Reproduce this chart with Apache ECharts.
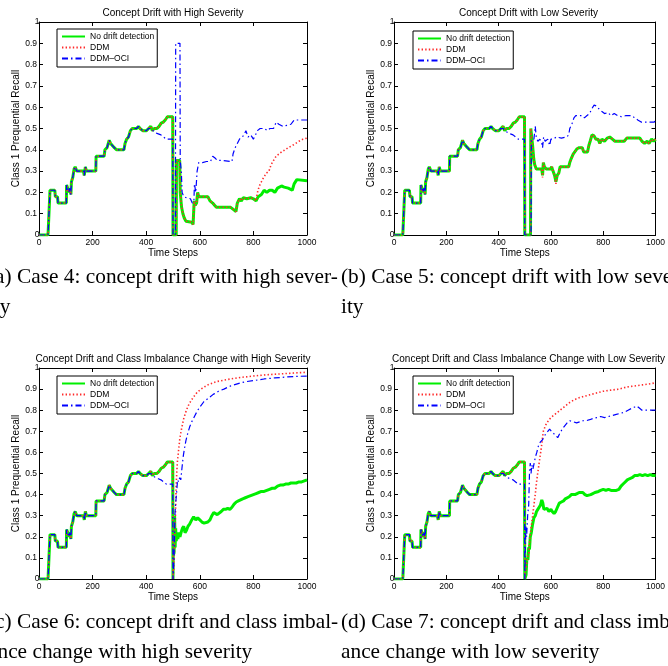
<!DOCTYPE html>
<html><head><meta charset="utf-8">
<script src="https://cdn.jsdelivr.net/npm/echarts@6/dist/echarts.min.js"></script>
<style>html,body{margin:0;padding:0;background:#fff}#c{width:668px;height:666px}</style>
</head><body><div id="c"></div>
<script>
// ---------- DATA ----------
const plotTitles = [
  'Concept Drift with High Severity',
  'Concept Drift with Low Severity',
  'Concept Drift and Class Imbalance Change with High Severity',
  'Concept Drift and Class Imbalance Change with Low Severity'
];
const seriesNames = ['No drift detection', 'DDM', 'DDM\u2013OCI'];
const xAxisName = 'Time Steps';
const yAxisName = 'Class 1 Prequential Recall';
const captions = [
  ['(a) Case 4: concept drift with high sever-', 'ity'],
  ['(b) Case 5: concept drift with low sever-', 'ity'],
  ['(c) Case 6: concept drift and class imbal-', 'ance change with high severity'],
  ['(d) Case 7: concept drift and class imbal-', 'ance change with low severity']
];
// shared history before the drift at t = 500 : [time step, recall]
const preDrift = [[0,0],[33,0],[34,0.01],[40,0.01],[41,0.21],[59,0.21],[61,0.18],[69,0.18],[71,0.15],[102,0.15],[103,0.235],[107,0.22],[111,0.2],[115,0.22],[119,0.19],[121,0.25],[126,0.27],[131,0.31],[135,0.32],[141,0.3],[166,0.3],[169,0.28],[173,0.32],[177,0.3],[212,0.3],[213,0.37],[243,0.37],[246,0.4],[254,0.41],[262,0.445],[267,0.43],[274,0.43],[281,0.41],[289,0.4],[317,0.4],[321,0.43],[327,0.45],[334,0.46],[341,0.49],[348,0.5],[364,0.5],[371,0.51],[377,0.5],[387,0.49],[401,0.49],[409,0.5],[417,0.51],[423,0.49],[430,0.5],[440,0.5],[448,0.51],[456,0.525],[464,0.53],[471,0.54],[479,0.555],[499,0.555]];
const ociPreTail = [[417,0.5],[425,0.49],[435,0.48],[445,0.475],[455,0.47],[465,0.46],[475,0.45],[499,0.45]];

// (a) Case 4
const aGreen = [[500,0],[512,0],[513,0.35],[525,0.35],[527,0.2],[532,0.13],[537,0.1],[542,0.08],[548,0.065],[555,0.06],[570,0.06],[575,0.05],[578,0.05],[579,0.16],[583,0.14],[588,0.15],[592,0.2],[596,0.18],[630,0.18],[638,0.16],[648,0.15],[655,0.14],[662,0.13],[715,0.13],[725,0.12],[735,0.11],[740,0.15],[748,0.17],[755,0.16],[762,0.175],[775,0.17],[790,0.175],[800,0.17],[810,0.16],[818,0.18],[830,0.19],[840,0.21],[850,0.2],[860,0.21],[870,0.21],[880,0.2],[890,0.22],[905,0.23],[915,0.225],[930,0.22],[945,0.21],[952,0.24],[962,0.26],[968,0.255],[1000,0.255]];
const aRedTail = [[815,0.2],[822,0.23],[830,0.25],[838,0.27],[848,0.29],[858,0.3],[866,0.33],[875,0.35],[885,0.37],[895,0.38],[905,0.39],[918,0.4],[930,0.41],[945,0.42],[958,0.43],[970,0.44],[985,0.45],[1000,0.455]];
const aBlue = [[500,0],[509,0],[510,0.9],[526,0.9],[527,0.35],[531,0.3],[534,0.2],[540,0.18],[550,0.175],[565,0.17],[572,0.15],[578,0.16],[580,0.24],[585,0.2],[590,0.3],[596,0.34],[610,0.34],[625,0.345],[640,0.345],[648,0.37],[658,0.36],[665,0.35],[680,0.35],[720,0.345],[724,0.38],[732,0.41],[740,0.43],[748,0.45],[758,0.46],[765,0.47],[772,0.49],[780,0.46],[790,0.47],[800,0.45],[808,0.47],[815,0.49],[825,0.5],[840,0.5],[852,0.49],[862,0.5],[875,0.5],[885,0.53],[895,0.52],[910,0.51],[925,0.515],[940,0.52],[952,0.54],[1000,0.54]];

// (b) Case 5
const bGreen = [[500,0],[522,0],[523,0.5],[527,0.5],[530,0.42],[534,0.36],[538,0.33],[544,0.31],[565,0.31],[568,0.28],[571,0.34],[575,0.32],[582,0.31],[598,0.31],[603,0.32],[608,0.3],[614,0.28],[619,0.25],[624,0.28],[630,0.29],[635,0.32],[668,0.32],[672,0.34],[678,0.36],[685,0.38],[692,0.38],[700,0.405],[708,0.41],[720,0.41],[725,0.39],[740,0.39],[745,0.42],[750,0.44],[757,0.47],[765,0.465],[772,0.45],[780,0.45],[787,0.43],[795,0.45],[805,0.44],[815,0.455],[825,0.46],[835,0.45],[845,0.44],[880,0.44],[890,0.455],[940,0.455],[948,0.44],[958,0.43],[968,0.44],[975,0.43],[985,0.45],[993,0.44],[1000,0.45]];
const bRed = [[500,0],[522,0],[523,0.5],[527,0.5],[530,0.42],[534,0.36],[538,0.33],[544,0.31],[565,0.31],[568,0.27],[571,0.34],[575,0.32],[582,0.31],[598,0.31],[603,0.32],[608,0.3],[614,0.28],[619,0.24],[624,0.28],[630,0.29],[635,0.32],[668,0.32],[672,0.34],[678,0.36],[685,0.38],[692,0.38],[700,0.405],[708,0.41],[720,0.41],[725,0.39],[740,0.39],[745,0.42],[750,0.44],[757,0.47],[765,0.465],[772,0.45],[780,0.45],[787,0.43],[795,0.45],[805,0.44],[815,0.455],[825,0.46],[835,0.45],[845,0.44],[880,0.44],[890,0.455],[940,0.455],[948,0.44],[958,0.43],[968,0.44],[975,0.43],[985,0.45],[993,0.44],[1000,0.45]];
const bBlue = [[500,0],[524,0],[525,0.45],[535,0.45],[540,0.51],[544,0.46],[550,0.44],[558,0.45],[565,0.43],[568,0.41],[572,0.46],[578,0.44],[588,0.45],[595,0.42],[600,0.45],[610,0.45],[620,0.46],[640,0.455],[660,0.46],[668,0.47],[672,0.5],[680,0.52],[688,0.55],[695,0.56],[720,0.56],[728,0.55],[737,0.56],[748,0.57],[755,0.59],[765,0.61],[775,0.605],[785,0.59],[795,0.58],[805,0.57],[818,0.575],[830,0.56],[842,0.57],[855,0.56],[870,0.555],[885,0.56],[910,0.56],[920,0.55],[932,0.54],[945,0.53],[975,0.53],[995,0.53],[1000,0.54]];

// (c) Case 6
const cGreen = [[500,0],[502,0.25],[504,0.12],[506,0.3],[508,0.15],[510,0.24],[512,0.18],[515,0.22],[518,0.19],[522,0.22],[526,0.2],[530,0.22],[535,0.24],[540,0.25],[545,0.22],[550,0.23],[556,0.25],[562,0.26],[570,0.28],[577,0.295],[585,0.28],[592,0.29],[600,0.28],[608,0.27],[616,0.265],[622,0.26],[630,0.27],[638,0.28],[645,0.3],[652,0.315],[658,0.31],[665,0.305],[672,0.31],[680,0.32],[688,0.33],[696,0.33],[704,0.335],[712,0.33],[720,0.34],[728,0.355],[736,0.365],[744,0.37],[752,0.375],[760,0.38],[770,0.385],[780,0.39],[790,0.395],[800,0.4],[810,0.405],[820,0.41],[830,0.415],[840,0.415],[850,0.42],[860,0.425],[870,0.43],[880,0.43],[890,0.44],[900,0.445],[910,0.445],[920,0.45],[930,0.45],[940,0.455],[950,0.455],[960,0.455],[970,0.46],[980,0.46],[990,0.465],[1000,0.47]];
const cRed = [[500,0],[503,0.05],[506,0.15],[509,0.3],[512,0.45],[516,0.55],[520,0.6],[525,0.66],[530,0.7],[540,0.76],[550,0.8],[560,0.83],[575,0.86],[590,0.885],[610,0.905],[630,0.92],[660,0.935],[700,0.945],[750,0.955],[800,0.962],[850,0.968],[900,0.972],[950,0.976],[1000,0.98]];
const cBlue = [[500,0],[504,0.1],[507,0.3],[510,0.36],[513,0.4],[517,0.47],[521,0.46],[525,0.48],[529,0.47],[533,0.52],[538,0.58],[543,0.62],[548,0.655],[555,0.69],[562,0.72],[570,0.745],[580,0.77],[590,0.795],[600,0.815],[615,0.84],[630,0.855],[650,0.875],[670,0.89],[690,0.9],[715,0.915],[740,0.925],[770,0.935],[800,0.94],[840,0.948],[880,0.953],[920,0.957],[960,0.96],[1000,0.962]];

// (d) Case 7
const dGreen = [[500,0],[505,0.02],[508,0.1],[512,0.09],[515,0.15],[518,0.14],[521,0.2],[525,0.22],[530,0.26],[535,0.29],[540,0.3],[545,0.32],[550,0.33],[555,0.34],[560,0.35],[565,0.375],[569,0.36],[573,0.33],[578,0.325],[585,0.335],[592,0.32],[600,0.33],[605,0.32],[612,0.31],[618,0.32],[625,0.34],[632,0.36],[640,0.365],[648,0.37],[655,0.38],[662,0.38],[670,0.39],[678,0.4],[685,0.405],[692,0.4],[700,0.405],[708,0.41],[715,0.415],[722,0.41],[730,0.4],[738,0.395],[745,0.39],[752,0.4],[760,0.405],[768,0.41],[775,0.405],[782,0.415],[790,0.42],[800,0.425],[810,0.42],[820,0.425],[830,0.42],[850,0.42],[860,0.425],[868,0.44],[876,0.45],[884,0.46],[892,0.47],[900,0.475],[910,0.48],[920,0.49],[930,0.49],[940,0.495],[950,0.49],[960,0.495],[970,0.49],[980,0.495],[990,0.49],[1000,0.49]];
const dRed = [[500,0],[505,0.05],[510,0.1],[515,0.12],[520,0.2],[530,0.3],[540,0.4],[546,0.47],[555,0.55],[563,0.62],[571,0.7],[580,0.73],[590,0.75],[600,0.765],[615,0.78],[630,0.795],[650,0.815],[670,0.835],[690,0.85],[710,0.86],[740,0.87],[770,0.88],[800,0.89],[830,0.895],[860,0.9],[890,0.91],[920,0.915],[950,0.92],[980,0.925],[1000,0.93]];
const dBlue = [[500,0],[504,0.25],[507,0.2],[511,0.3],[515,0.35],[518,0.5],[521,0.55],[524,0.5],[527,0.54],[531,0.52],[536,0.55],[541,0.58],[546,0.6],[552,0.63],[560,0.65],[568,0.66],[576,0.68],[585,0.695],[595,0.71],[602,0.7],[610,0.69],[618,0.68],[626,0.67],[634,0.69],[643,0.71],[652,0.725],[662,0.74],[672,0.75],[685,0.745],[698,0.74],[710,0.745],[722,0.75],[735,0.75],[748,0.755],[760,0.76],[775,0.765],[790,0.77],[805,0.765],[820,0.77],[835,0.775],[850,0.78],[865,0.785],[880,0.79],[895,0.8],[910,0.81],[920,0.815],[928,0.82],[938,0.81],[948,0.8],[960,0.8],[975,0.8],[990,0.8],[1000,0.8]];

// ---------- BUILD ----------
const preOCI = preDrift.filter(p => p[0] < 417).concat(ociPreTail);
const plotData = [
  [preDrift.concat(aGreen), preDrift.concat(aGreen.filter(p => p[0] <= 810), aRedTail), preOCI.concat(aBlue)],
  [preDrift.concat(bGreen), preDrift.concat(bRed), preOCI.concat(bBlue)],
  [preDrift.concat(cGreen), preDrift.concat(cRed), preOCI.concat(cBlue)],
  [preDrift.concat(dGreen), preDrift.concat(dRed), preOCI.concat(dBlue)]
];

// ---------- LAYOUT / STYLE ----------
const gridBoxes = [
  {left: 39, top: 22, width: 268, height: 213},
  {left: 394, top: 22, width: 269, height: 213},
  {left: 39, top: 368, width: 268, height: 211},
  {left: 394, top: 368, width: 269, height: 211}
];
const legendPos = [[57, 29], [413, 31], [57, 376], [413, 376]];
const captionX = [-12, 341];
const captionY = [[277, 307], [622, 652]];
const lineStyles = [
  {color: '#00ee00', width: 3, type: 'solid'},
  {color: '#ff2a2a', width: 1.6, type: [1.4, 2.2]},
  {color: '#0000ff', width: 1.2, type: [6, 3, 1.5, 3]}
];
const sans = '"Liberation Sans", Arial, sans-serif';

const grid = [], xAxis = [], yAxis = [], series = [], title = [], legend = [], graphic = [];
gridBoxes.forEach((g, i) => {
  grid.push(Object.assign({containLabel: false}, g));
  const common = {
    gridIndex: i, type: 'value', min: 0,
    axisLine: {show: true, onZero: false, lineStyle: {color: '#000', width: 1}},
    axisTick: {show: true, inside: true, length: 4, lineStyle: {color: '#000'}},
    splitLine: {show: false}
  };
  xAxis.push(Object.assign({}, common, {
    position: 'bottom', max: 1000, interval: 200,
    name: xAxisName, nameLocation: 'middle', nameGap: 13,
    nameTextStyle: {fontFamily: sans, fontSize: 10, color: '#000'},
    axisLabel: {fontFamily: sans, fontSize: 8.5, color: '#000', margin: 3, formatter: v => String(v),
      alignMinLabel: 'center', alignMaxLabel: 'center'}
  }));
  xAxis.push(Object.assign({}, common, {position: 'top', max: 1000, interval: 200, axisLabel: {show: false}}));
  yAxis.push(Object.assign({}, common, {
    position: 'left', max: 1, interval: 0.1,
    name: yAxisName, nameLocation: 'middle', nameGap: 18,
    nameTextStyle: {fontFamily: sans, fontSize: 10, color: '#000'},
    axisLabel: {fontFamily: sans, fontSize: 8.5, color: '#000', margin: 2,
      alignMinLabel: 'center', alignMaxLabel: 'center',
      formatter: v => (v === 0 ? '0' : (v >= 1 ? '1' : v.toFixed(1)))}
  }));
  yAxis.push(Object.assign({}, common, {position: 'right', max: 1, interval: 0.1, axisLabel: {show: false}}));

  plotData[i].forEach((d, k) => {
    series.push({
      type: 'line', name: seriesNames[k], xAxisIndex: 2 * i, yAxisIndex: 2 * i,
      data: d, symbol: 'none', showSymbol: false, animation: false,
      lineStyle: lineStyles[k], itemStyle: {color: lineStyles[k].color},
      z: 2 + k
    });
  });

  title.push({
    text: plotTitles[i], left: g.left + g.width / 2, top: g.top - 14,
    textAlign: 'center', padding: 0,
    textStyle: {fontFamily: sans, fontSize: 10, fontWeight: 'normal', color: '#000'}
  });

  legend.push({
    data: seriesNames, orient: 'vertical', left: legendPos[i][0], top: legendPos[i][1],
    backgroundColor: '#fff', borderColor: '#000', borderWidth: 1, borderRadius: 0,
    padding: [3, 3, 4, 4], itemGap: 2, itemWidth: 23, itemHeight: 10,
    selectedMode: false,
    itemStyle: {opacity: 0},
    textStyle: {fontFamily: sans, fontSize: 8.5, color: '#000'}
  });
});

captions.forEach((lines, i) => {
  const col = i % 2, row = Math.floor(i / 2);
  lines.forEach((t, j) => {
    graphic.push({
      type: 'text', x: captionX[col], y: captionY[row][j], scaleX: 0.97, z: 10,
      style: {text: t, font: '22px "Liberation Serif", "Times New Roman", serif',
        fill: '#000', textAlign: 'left', textVerticalAlign: 'middle', verticalAlign: 'middle'}
    });
  });
});

const chart = echarts.init(document.getElementById('c'), null, {renderer: 'canvas'});
chart.setOption({animation: false, backgroundColor: '#fff', grid, xAxis, yAxis, series, title, legend, graphic});
</script></body></html>
